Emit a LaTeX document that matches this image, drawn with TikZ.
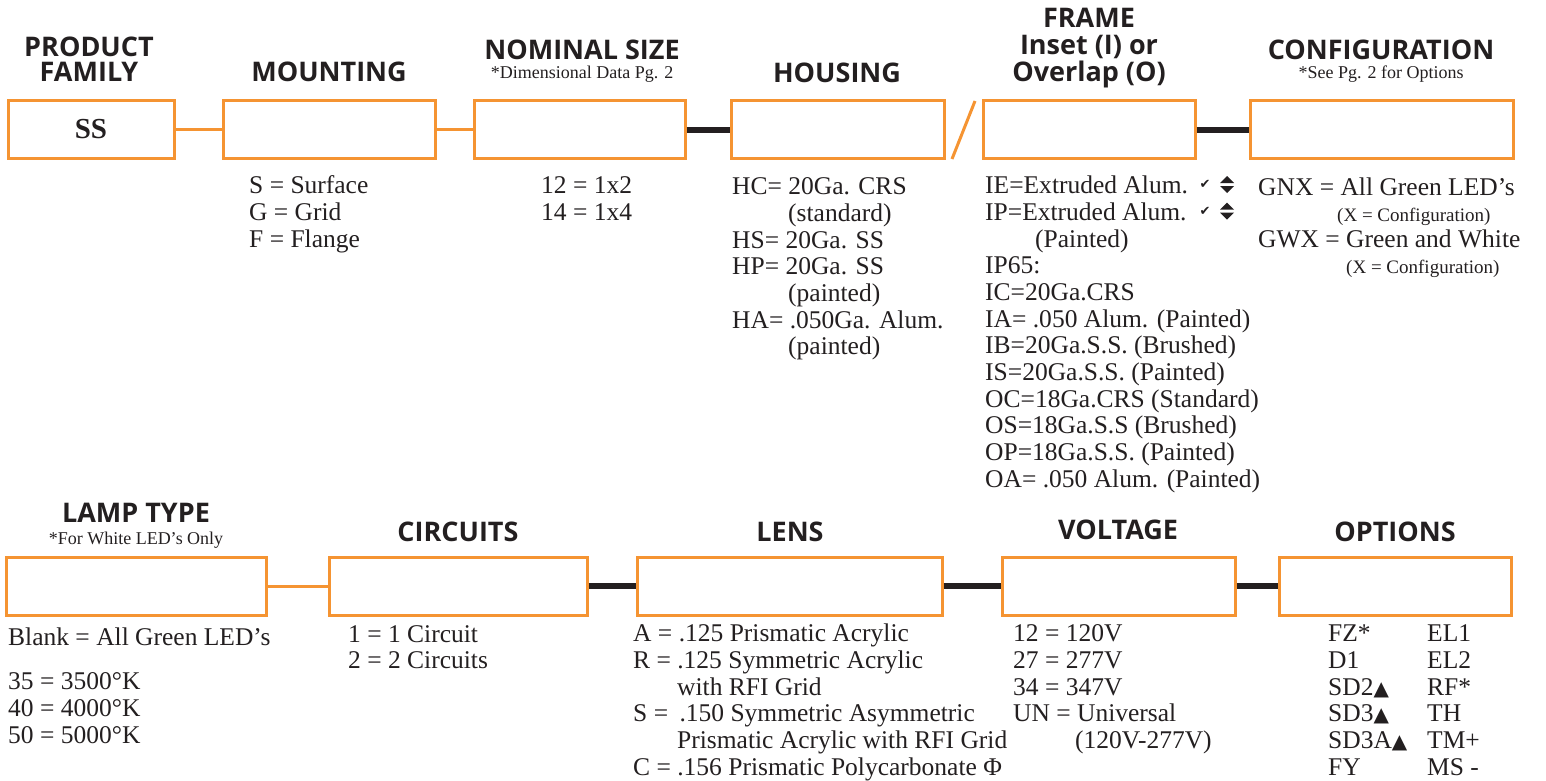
\documentclass[tikz,border=0pt]{standalone}
\usepackage{fontspec}
\setmainfont{Liberation Serif}
\newfontfamily\headfont{Open Sans}
\newfontfamily\symfont{DejaVu Sans}
\definecolor{brandorange}{RGB}{245,148,50}
\definecolor{ink}{RGB}{35,31,32}
\begin{document}
\begin{tikzpicture}[x=1pt,y=-1pt,
 pbox/.style={draw=brandorange,line width=3pt,minimum height=58pt,inner sep=0pt},
 oline/.style={draw=brandorange,line width=3pt},
 bline/.style={draw=ink,line width=6pt},
 hdr/.style={font=\headfont\bfseries\fontsize{27}{27}\selectfont,text=ink,inner sep=0pt,anchor=base},
 subhdr/.style={font=\fontsize{18}{18}\selectfont,text=ink,inner sep=0pt,anchor=base},
 bodytext/.style={font=\fontsize{25.5}{26.7}\selectfont,text=ink,align=left,inner sep=0pt,anchor=north west},
 bodyline/.style={font=\fontsize{25.5}{26.7}\selectfont,text=ink,inner sep=0pt,anchor=base west},
 subnote/.style={font=\fontsize{19}{19}\selectfont,text=ink,inner sep=0pt,anchor=base west},
 chk/.style={font=\symfont\fontsize{13}{13}\selectfont,text=ink,inner sep=0pt},
]
\useasboundingbox (0,0) rectangle (1546,780);
\newcommand{\tri}{{\symfont\fontsize{20}{20}\selectfont ▲}}
\newcommand{\fs}{\rule{0pt}{18pt}}

% ---------- top row boxes ----------
\node[pbox,minimum width=166pt] (ss)  at (91,129.5) {\fontsize{29}{29}\selectfont\bfseries\color{ink}SS};
\node[pbox,minimum width=212pt] (mnt) at (329,129.5) {};
\node[pbox,minimum width=211pt] (nom) at (579.5,129.5) {};
\node[pbox,minimum width=213pt] (hou) at (837.5,129.5) {};
\node[pbox,minimum width=212pt] (frm) at (1089,129.5) {};
\node[pbox,minimum width=263pt] (cfg) at (1381.5,129.5) {};

\draw[oline] (ss.east) -- (mnt.west);
\draw[oline] (mnt.east) -- (nom.west);
\draw[bline] (nom.east) -- (hou.west);
\coordinate (sla) at (952,159);
\coordinate (slb) at (975,101);
\draw[oline] (sla) -- (slb);
\draw[bline] (frm.east) -- (cfg.west);

% ---------- top headers ----------
\node[hdr] (h1a) at (89,56.6) {PRODUCT};
\node[hdr] (h1b) at (89,81.6) {FAMILY};
\node[hdr] (h2)  at (329,81.6) {MOUNTING};
\node[hdr] (h3)  at (582,59.6) {NOMINAL SIZE};
\node[subhdr] (h3s) at (582,78) {*Dimensional Data Pg. 2};
\node[hdr] (h4)  at (837,82.6) {HOUSING};
\node[hdr] (h5a) at (1089,27.6) {FRAME};
\node[hdr] (h5b) at (1089,54.6) {Inset (I) or};
\node[hdr] (h5c) at (1089,81.6) {Overlap (O)};
\node[hdr] (h6)  at (1381,59.6) {CONFIGURATION};
\node[subhdr] (h6s) at (1381,78) {*See Pg. 2 for Options};

% ---------- top texts ----------
\node[bodytext] (tmnt) at (249,175.4) {\fs S = Surface\\G = Grid\\F = Flange};
\node[bodytext] (tnom) at (541,175.4) {\fs 12 = 1x2\\14 = 1x4};
\node[bodytext] (thou) at (732,176.4) {\fs HC= 20Ga. CRS\\\hspace*{56pt}(standard)\\HS= 20Ga. SS\\HP= 20Ga. SS\\\hspace*{56pt}(painted)\\HA= .050Ga. Alum.\\\hspace*{56pt}(painted)};
\node[bodytext] (tfrm) at (985,175.4) {\fs IE=Extruded Alum.\\IP=Extruded Alum.\\\hspace*{50pt}(Painted)\\IP65:\\IC=20Ga.CRS\\IA= .050 Alum. (Painted)\\IB=20Ga.S.S. (Brushed)\\IS=20Ga.S.S. (Painted)\\OC=18Ga.CRS (Standard)\\OS=18Ga.S.S (Brushed)\\OP=18Ga.S.S. (Painted)\\OA= .050 Alum. (Painted)};
\node[chk] (ck1) at (1205,184) {✔};
\node[chk] (ck2) at (1205,211) {✔};
\foreach \yy in {185,211.7}{
  \fill[ink] (1220,\yy-2) -- (1234,\yy-2) -- (1227,\yy-9) -- cycle;
  \fill[ink] (1220,\yy+1) -- (1234,\yy+1) -- (1227,\yy+8) -- cycle;
}
\node[bodyline] (tc1) at (1258,195.4) {GNX = All Green LED’s};
\node[subnote]  (tc2) at (1337,221.3) {(X = Configuration)};
\node[bodyline] (tc3) at (1258,247.4) {GWX = Green and White};
\node[subnote]  (tc4) at (1346,273.3) {(X = Configuration)};

% ---------- bottom row boxes ----------
\node[pbox,minimum width=260pt] (lamp) at (136,586) {};
\node[pbox,minimum width=258pt] (cir)  at (458,586) {};
\node[pbox,minimum width=305pt] (lens) at (789.5,586) {};
\node[pbox,minimum width=233pt] (volt) at (1118.5,586) {};
\node[pbox,minimum width=232pt] (opt)  at (1395,586) {};

\draw[oline] (lamp.east) -- (cir.west);
\draw[bline] (cir.east) -- (lens.west);
\draw[bline] (lens.east) -- (volt.west);
\draw[bline] (volt.east) -- (opt.west);

% ---------- bottom headers ----------
\node[hdr] (b1)  at (136,522.6) {LAMP TYPE};
\node[subhdr] (b1s) at (136,544) {*For White LED’s Only};
\node[hdr] (b2)  at (458,541.6) {CIRCUITS};
\node[hdr] (b3)  at (790,541.6) {LENS};
\node[hdr] (b4)  at (1118,539.6) {VOLTAGE};
\node[hdr] (b5)  at (1395,541.6) {OPTIONS};

% ---------- bottom texts ----------
\node[bodyline] (tl1) at (8,645.4) {Blank = All Green LED’s};
\node[bodytext] (tl2) at (8,671.4) {\fs 35 = 3500°K\\40 = 4000°K\\50 = 5000°K};
\node[bodytext] (tci) at (348,623.9) {\fs 1 = 1 Circuit\\2 = 2 Circuits};
\node[bodytext] (tle) at (633,623.4) {\fs A = .125 Prismatic Acrylic\\R = .125 Symmetric Acrylic\\\hspace*{44pt}with RFI Grid\\S = \hspace{5pt}.150 Symmetric Asymmetric\\\hspace*{44pt}Prismatic Acrylic with RFI Grid\\C = .156 Prismatic Polycarbonate Φ};
\node[bodytext] (tvo) at (1013,623.4) {\fs 12 = 120V\\27 = 277V\\34 = 347V\\UN = Universal\\\hspace*{62pt}(120V-277V)};
\node[bodytext] (to1) at (1328,623.4) {\fs FZ*\\D1\\SD2\tri\\SD3\tri\\SD3A\tri\\FY};
\node[bodytext] (to2) at (1427,623.4) {\fs EL1\\EL2\\RF*\\TH\\TM+\\MS -};
\end{tikzpicture}
\end{document}
